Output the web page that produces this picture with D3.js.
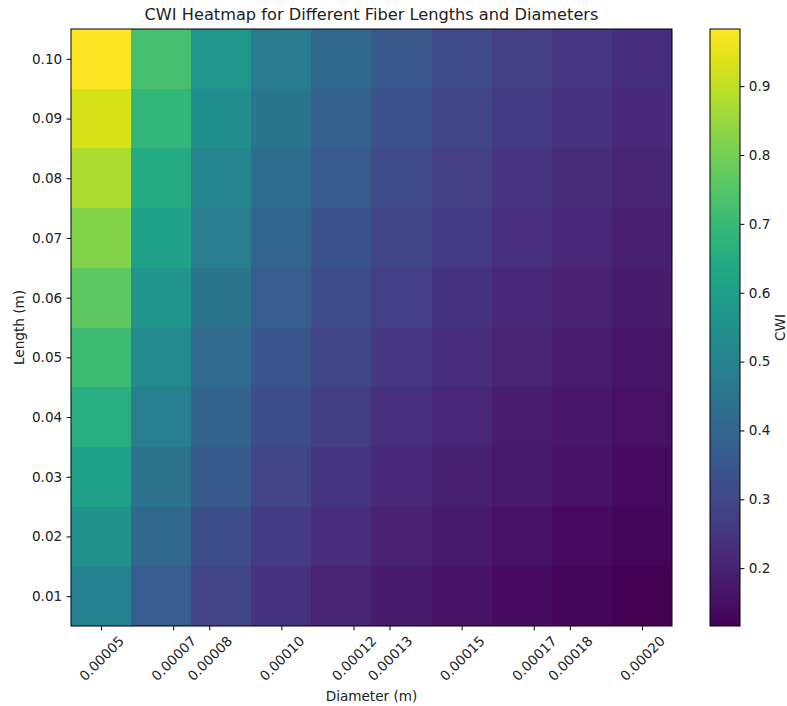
<!DOCTYPE html>
<html>
<head>
<meta charset="utf-8">
<script src="https://cdn.jsdelivr.net/npm/d3@7"></script>
<style>
  body { margin: 0; background: #fff; }
  svg { font-family: "DejaVu Sans", sans-serif; }
</style>
</head>
<body>
<div id="chart"></div>
<script>
// fiber diameters (m), one per column
const diameters = [5.0e-5, 6.667e-5, 8.333e-5, 1.0e-4, 1.1667e-4, 1.3333e-4, 1.5e-4, 1.6667e-4, 1.8333e-4, 2.0e-4];
// fiber lengths (m), one per row, bottom to top
const lengths = [0.01, 0.02, 0.03, 0.04, 0.05, 0.06, 0.07, 0.08, 0.09, 0.10];
// x tick labels, as printed on the axis
const diameterTicks = [0.00005, 0.00007, 0.00008, 0.00010, 0.00012, 0.00013, 0.00015, 0.00017, 0.00018, 0.00020];
const colorbarTicks = [0.2, 0.3, 0.4, 0.5, 0.6, 0.7, 0.8, 0.9];

// CWI values, rows match lengths, columns match diameters
const cwi = [
  [0.496, 0.367, 0.290, 0.240, 0.204, 0.177, 0.157, 0.140, 0.127, 0.116],
  [0.550, 0.407, 0.322, 0.266, 0.226, 0.197, 0.174, 0.155, 0.141, 0.128],
  [0.605, 0.447, 0.354, 0.292, 0.249, 0.216, 0.191, 0.171, 0.155, 0.141],
  [0.659, 0.487, 0.385, 0.318, 0.271, 0.235, 0.208, 0.186, 0.169, 0.153],
  [0.713, 0.527, 0.417, 0.344, 0.293, 0.254, 0.225, 0.201, 0.182, 0.166],
  [0.767, 0.567, 0.449, 0.370, 0.315, 0.274, 0.242, 0.216, 0.196, 0.179],
  [0.821, 0.607, 0.480, 0.397, 0.337, 0.293, 0.259, 0.232, 0.210, 0.191],
  [0.875, 0.647, 0.512, 0.423, 0.360, 0.312, 0.276, 0.247, 0.224, 0.204],
  [0.929, 0.686, 0.544, 0.449, 0.382, 0.332, 0.294, 0.262, 0.238, 0.216],
  [0.983, 0.726, 0.575, 0.475, 0.404, 0.351, 0.311, 0.277, 0.252, 0.229]
];

const width = 787;
const height = 706;
const plot = { left: 71, right: 672, top: 29, bottom: 626 };
const cbar = { left: 710, right: 740 };
const tickLen = 4.4;
const fontSize = 13.6;

const cells = [];
lengths.forEach((len, i) => {
  diameters.forEach((d, j) => {
    cells.push({ d: d, len: len, value: cwi[i][j] });
  });
});

const dStep = diameters[1] - diameters[0];
const lStep = lengths[1] - lengths[0];

const x = d3.scaleLinear()
  .domain([diameters[0] - dStep / 2, diameters[diameters.length - 1] + dStep / 2])
  .range([plot.left, plot.right]);

const y = d3.scaleLinear()
  .domain([lengths[0] - lStep / 2, lengths[lengths.length - 1] + lStep / 2])
  .range([plot.bottom, plot.top]);

const allValues = cwi.flat();
const color = d3.scaleSequential(d3.interpolateViridis)
  .domain(d3.extent(allValues));

const svg = d3.select("#chart").append("svg")
  .attr("width", width)
  .attr("height", height);

// heatmap cells, snapped to whole pixels so no seams show
svg.append("g")
  .attr("shape-rendering", "crispEdges")
  .selectAll("rect")
  .data(cells)
  .join("rect")
  .attr("x", c => Math.round(x(c.d - dStep / 2)))
  .attr("y", c => Math.round(y(c.len + lStep / 2)))
  .attr("width", c => Math.round(x(c.d + dStep / 2)) - Math.round(x(c.d - dStep / 2)))
  .attr("height", c => Math.round(y(c.len - lStep / 2)) - Math.round(y(c.len + lStep / 2)))
  .attr("fill", c => color(c.value));

svg.append("rect")
  .attr("x", plot.left)
  .attr("y", plot.top)
  .attr("width", plot.right - plot.left)
  .attr("height", plot.bottom - plot.top)
  .attr("fill", "none")
  .attr("stroke", "#000")
  .attr("stroke-width", 1);

// x axis
const xAxis = svg.append("g")
  .attr("transform", `translate(0,${plot.bottom})`)
  .call(d3.axisBottom(x)
    .tickValues(diameterTicks)
    .tickFormat(d3.format(".5f"))
    .tickSize(tickLen)
    .tickPadding(0));
xAxis.select(".domain").remove();
xAxis.selectAll(".tick line").attr("stroke", "#000");

// rotated labels, centred under the tick like matplotlib's default
const labelW = 4.134 * fontSize;
const labelH = 0.95 * fontSize;
const boxH = (labelW + labelH) / Math.SQRT2;
xAxis.selectAll(".tick text")
  .attr("font-size", fontSize)
  .attr("font-family", "DejaVu Sans, sans-serif")
  .attr("fill", "#222")
  .attr("text-anchor", "middle")
  .attr("dominant-baseline", "central")
  .attr("y", null)
  .attr("dy", null)
  .attr("transform", `translate(0,${tickLen + 3.5 + boxH / 2}) rotate(-45)`);

// y axis
const yAxis = svg.append("g")
  .attr("transform", `translate(${plot.left},0)`)
  .call(d3.axisLeft(y)
    .tickValues(lengths)
    .tickFormat(d3.format(".2f"))
    .tickSize(tickLen)
    .tickPadding(4.4));
yAxis.select(".domain").remove();
yAxis.selectAll(".tick line").attr("stroke", "#000");
yAxis.selectAll(".tick text")
  .attr("font-size", fontSize)
  .attr("font-family", "DejaVu Sans, sans-serif")
  .attr("fill", "#222");

// colorbar
const cScale = d3.scaleLinear()
  .domain(color.domain())
  .range([plot.bottom, plot.top]);

const grad = svg.append("defs").append("linearGradient")
  .attr("id", "cbar-grad")
  .attr("x1", 0).attr("y1", 1)
  .attr("x2", 0).attr("y2", 0);
d3.range(0, 1.0001, 0.05).forEach(t => {
  grad.append("stop")
    .attr("offset", t)
    .attr("stop-color", d3.interpolateViridis(t));
});

svg.append("rect")
  .attr("x", cbar.left)
  .attr("y", plot.top)
  .attr("width", cbar.right - cbar.left)
  .attr("height", plot.bottom - plot.top)
  .attr("fill", "url(#cbar-grad)")
  .attr("stroke", "#000")
  .attr("stroke-width", 1);

const cAxis = svg.append("g")
  .attr("transform", `translate(${cbar.right},0)`)
  .call(d3.axisRight(cScale)
    .tickValues(colorbarTicks)
    .tickFormat(d3.format(".1f"))
    .tickSize(tickLen)
    .tickPadding(4.4));
cAxis.select(".domain").remove();
cAxis.selectAll(".tick line").attr("stroke", "#000");
cAxis.selectAll(".tick text")
  .attr("font-size", fontSize)
  .attr("font-family", "DejaVu Sans, sans-serif")
  .attr("fill", "#222");

// titles and labels
svg.append("text")
  .attr("x", (plot.left + plot.right) / 2)
  .attr("y", 20)
  .attr("text-anchor", "middle")
  .attr("font-size", 16.2)
  .attr("fill", "#222")
  .text("CWI Heatmap for Different Fiber Lengths and Diameters");

svg.append("text")
  .attr("x", (plot.left + plot.right) / 2)
  .attr("y", 701)
  .attr("text-anchor", "middle")
  .attr("font-size", fontSize)
  .attr("fill", "#222")
  .text("Diameter (m)");

svg.append("text")
  .attr("transform", `translate(24,${(plot.top + plot.bottom) / 2}) rotate(-90)`)
  .attr("text-anchor", "middle")
  .attr("font-size", fontSize)
  .attr("fill", "#222")
  .text("Length (m)");

svg.append("text")
  .attr("transform", `translate(785,${(plot.top + plot.bottom) / 2}) rotate(-90)`)
  .attr("text-anchor", "middle")
  .attr("font-size", fontSize)
  .attr("fill", "#222")
  .text("CWI");
</script>
</body>
</html>
